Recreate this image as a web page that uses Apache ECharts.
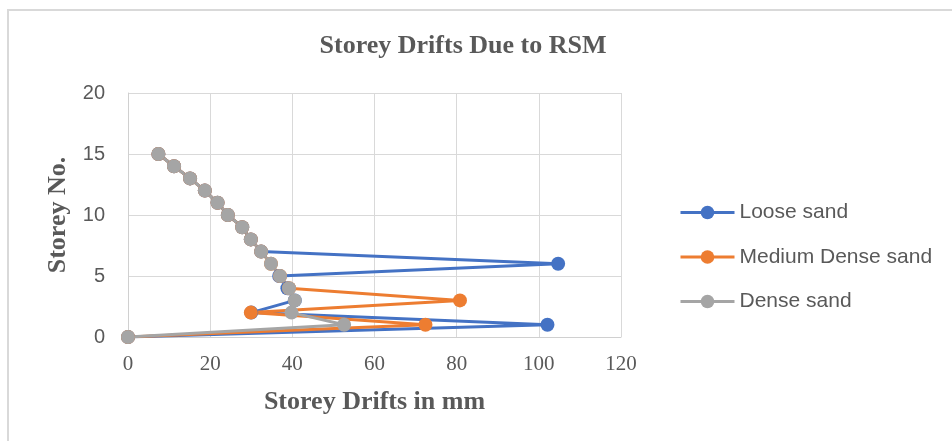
<!DOCTYPE html>
<html>
<head>
<meta charset="utf-8">
<script src="https://cdn.jsdelivr.net/npm/echarts@6/dist/echarts.min.js"></script>
<style>html,body{margin:0;padding:0;background:#fff}#c{width:952px;height:441px}</style>
</head>
<body>
<div id="c"></div>
<script>
var storeys = [0, 1, 2, 3, 4, 5, 6, 7, 8, 9, 10, 11, 12, 13, 14, 15];
var looseSand = [0, 102.1, 30.0, 40.6, 38.8, 36.8, 104.7, 32.4, 29.9, 27.8, 24.3, 21.8, 18.7, 15.1, 11.2, 7.4];
var mediumDenseSand = [0, 72.4, 29.9, 80.8, 39.2, 37.0, 34.8, 32.4, 29.9, 27.8, 24.3, 21.8, 18.7, 15.1, 11.2, 7.4];
var denseSand = [0, 52.6, 39.8, 40.6, 39.2, 37.0, 34.8, 32.4, 29.9, 27.8, 24.3, 21.8, 18.7, 15.1, 11.2, 7.4];
var seriesNames = ['Loose sand', 'Medium Dense sand', 'Dense sand'];
var colors = ['#4472C4', '#ED7D31', '#A5A5A5'];

function pairs(vals) { return vals.map(function (v, i) { return [v, storeys[i]]; }); }
var seriesVals = [looseSand, mediumDenseSand, denseSand];

var chart = echarts.init(document.getElementById('c'));
chart.setOption({
  animation: false,
  color: colors,
  graphic: [{
    type: 'rect', shape: { x: 8, y: 10, width: 1000, height: 500 },
    style: { fill: 'none', stroke: '#d9d9d9', lineWidth: 2 }, silent: true
  }],
  title: {
    text: 'Storey Drifts Due to RSM', left: 458, top: 28, textAlign: 'center',
    textStyle: { fontFamily: 'Liberation Serif', fontWeight: 'bold', fontSize: 26, color: '#595959' }
  },
  legend: {
    orient: 'vertical', left: 674, top: 197, itemWidth: 54, itemHeight: 17, itemGap: 23.5,
    data: seriesNames,
    lineStyle: { width: 3 },
    textStyle: { fontFamily: 'Liberation Sans', fontSize: 21, color: '#595959' }
  },
  grid: { left: 128, right: 331, top: 93, bottom: 104, containLabel: false },
  xAxis: {
    type: 'value', min: 0, max: 120, interval: 20,
    name: 'Storey Drifts in mm', nameLocation: 'middle', nameGap: 52,
    nameTextStyle: { fontFamily: 'Liberation Serif', fontWeight: 'bold', fontSize: 26, color: '#595959' },
    axisLine: { show: true, lineStyle: { color: '#d0d0d0', width: 1 } },
    axisTick: { show: false },
    axisLabel: { margin: 17, fontFamily: 'Liberation Serif', fontSize: 21, color: '#595959' },
    splitLine: { show: true, lineStyle: { color: '#d9d9d9', width: 1 } }
  },
  yAxis: {
    type: 'value', min: 0, max: 20, interval: 5,
    name: 'Storey No.', nameLocation: 'middle', nameGap: 57, nameRotate: 90,
    nameTextStyle: { fontFamily: 'Liberation Serif', fontWeight: 'bold', fontSize: 26, color: '#595959' },
    axisLine: { show: true, lineStyle: { color: '#d0d0d0', width: 1 } },
    axisTick: { show: false },
    axisLabel: { margin: 23, fontFamily: 'Liberation Sans', fontSize: 20, color: '#595959' },
    splitLine: { show: true, lineStyle: { color: '#d9d9d9', width: 1 } }
  },
  series: seriesNames.map(function (n, i) {
    return {
      name: n, type: 'line', data: pairs(seriesVals[i]),
      symbol: 'circle', symbolSize: 14,
      lineStyle: { width: 3, color: colors[i] },
      itemStyle: { color: colors[i] }
    };
  })
});
</script>
</body>
</html>
